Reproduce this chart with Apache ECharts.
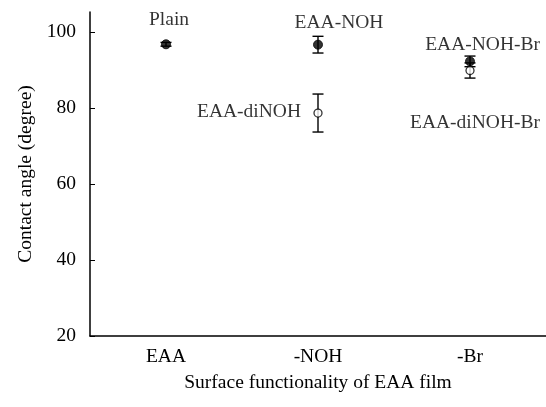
<!DOCTYPE html>
<html>
<head>
<meta charset="utf-8">
<script src="https://cdn.jsdelivr.net/npm/echarts@6/dist/echarts.min.js"></script>
<style>html,body{margin:0;padding:0;background:#fff}#c{width:546px;height:407px}</style>
</head>
<body>
<div id="c"></div>
<script>
var categories = ['EAA', '-NOH', '-Br'];
var yTicks = [20, 40, 60, 80, 100];

// filled symbols (Plain, EAA-NOH, EAA-NOH-Br)
var filledNames = ['Plain', 'EAA-NOH', 'EAA-NOH-Br'];
var filledCats = ['EAA', '-NOH', '-Br'];
var filledMean = [96.8, 96.7, 92.3];
var filledErr = [0.5, 2.2, 1.4];

// open symbols (EAA-diNOH, EAA-diNOH-Br)
var openNames = ['EAA-diNOH', 'EAA-diNOH-Br'];
var openCats = ['-NOH', '-Br'];
var openMean = [78.7, 89.9];
var openErr = [5.0, 2.0];

var FONT = '"Liberation Serif", "Times New Roman", serif';
var FS = 19.5;

var labelCfg = {
  'Plain': {align: 'center', offset: [3, -24]},
  'EAA-NOH': {align: 'center', offset: [21, -22]},
  'EAA-NOH-Br': {align: 'right', offset: [70, -17]},
  'EAA-diNOH': {align: 'right', offset: [-17, -1]},
  'EAA-diNOH-Br': {align: 'right', offset: [70, 52]}
};

function pts(names, cats, mean) {
  return names.map(function (n, i) {
    var lc = labelCfg[n];
    return {
      name: n,
      value: [cats[i], mean[i]],
      label: {
        show: true, position: 'inside', align: lc.align, verticalAlign: 'middle',
        offset: lc.offset, formatter: n, color: '#000', fontFamily: FONT, fontSize: FS,
        textBorderWidth: 0
      }
    };
  });
}
function errData(cats, mean, err) {
  return cats.map(function (c, i) { return [c, mean[i] - err[i], mean[i] + err[i]]; });
}
function renderErr(params, api) {
  var lo = api.coord([api.value(0), api.value(1)]);
  var hi = api.coord([api.value(0), api.value(2)]);
  var w = 5.5;
  var st = {stroke: '#000', lineWidth: 1.4};
  return {
    type: 'group',
    children: [
      {type: 'line', shape: {x1: lo[0], y1: lo[1], x2: hi[0], y2: hi[1]}, style: st},
      {type: 'line', shape: {x1: lo[0] - w, y1: lo[1], x2: lo[0] + w, y2: lo[1]}, style: st},
      {type: 'line', shape: {x1: hi[0] - w, y1: hi[1], x2: hi[0] + w, y2: hi[1]}, style: st}
    ]
  };
}

var chart = echarts.init(document.getElementById('c'));
chart.setOption({
  animation: false,
  backgroundColor: '#fff',
  grid: {left: 90, right: 0, top: 12, bottom: 71},
  xAxis: {
    type: 'category', data: categories, boundaryGap: true,
    name: 'Surface functionality of EAA film', nameLocation: 'middle', nameGap: 37,
    nameTextStyle: {fontFamily: FONT, fontSize: FS, color: '#000'},
    axisLine: {lineStyle: {color: '#000', width: 1.5}},
    axisTick: {inside: true, alignWithLabel: true, length: 5, lineStyle: {color: '#000', width: 1}},
    axisLabel: {fontFamily: FONT, fontSize: FS, color: '#000', margin: 11},
    splitLine: {show: false}
  },
  yAxis: {
    type: 'value', min: 20, max: 105.3,
    name: 'Contact angle (degree)', nameLocation: 'middle', nameGap: 54,
    nameTextStyle: {fontFamily: FONT, fontSize: FS, color: '#000'},
    axisLine: {show: true, lineStyle: {color: '#000', width: 1.5}},
    axisTick: {show: true, inside: true, length: 5, customValues: yTicks, lineStyle: {color: '#000', width: 1}},
    axisLabel: {fontFamily: FONT, fontSize: FS, color: '#000', margin: 14, customValues: yTicks},
    splitLine: {show: false}
  },
  series: [
    {type: 'custom', renderItem: renderErr, data: errData(filledCats, filledMean, filledErr), encode: {x: 0, y: [1, 2]}, z: 1},
    {type: 'custom', renderItem: renderErr, data: errData(openCats, openMean, openErr), encode: {x: 0, y: [1, 2]}, z: 1},
    {type: 'scatter', data: pts(filledNames, filledCats, filledMean), symbol: 'circle', symbolSize: 9,
      itemStyle: {color: '#000', borderColor: '#000', borderWidth: 1}, z: 3},
    {type: 'scatter', data: pts(openNames, openCats, openMean), symbol: 'circle', symbolSize: 8,
      itemStyle: {color: '#fff', borderColor: '#000', borderWidth: 1.3}, z: 4}
  ]
});
</script>
</body>
</html>
